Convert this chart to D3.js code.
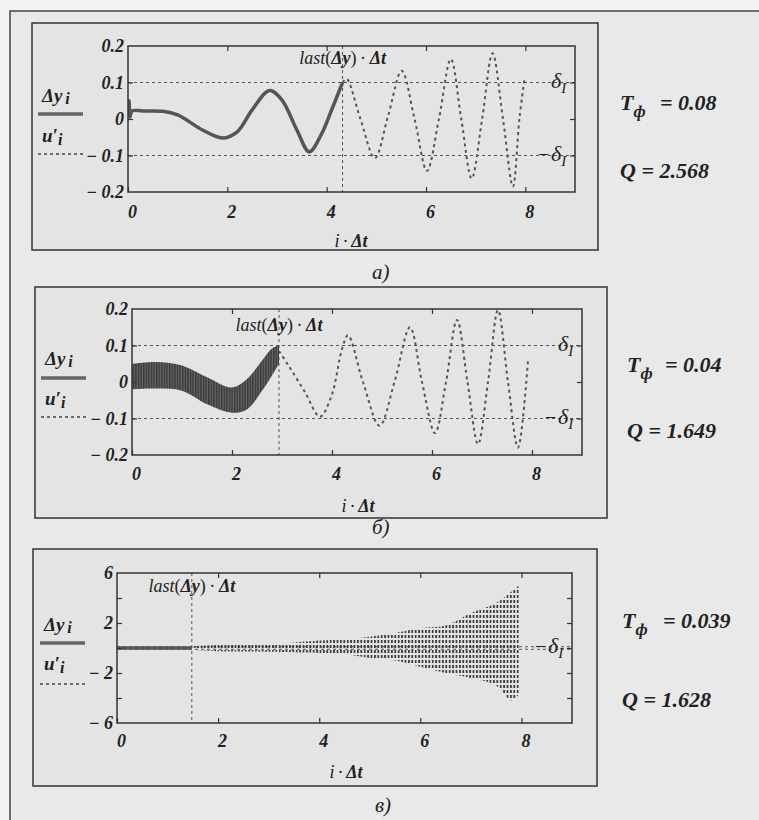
<!DOCTYPE html>
<html>
<head>
<meta charset="utf-8">
<script src="https://cdn.jsdelivr.net/npm/d3@7"></script>
<style>
  body { margin: 0; background: #f3f3f3; }
  svg { display: block; }
</style>
</head>
<body>
<svg id="chart" width="759" height="820"></svg>
<script>
// ---- data ----
const xTicks = [0, 2, 4, 6, 8];
const xInnerTicks = [2, 4, 6, 8];
const yLabelsSmall = [-0.2, -0.1, 0, 0.1, 0.2];
const yMarksSmall = [-0.1, 0, 0.1];
const yLabelsLarge = [-6, -2, 2, 6];
const yMarksLarge = [-4, -2, 0, 2, 4];
const deltaI = 0.1;
const captions = ['а)', 'б)', 'в)'];
const filterT = ['0.08', '0.04', '0.039'];
const qValues = ['2.568', '1.649', '1.628'];
const lastT = [4.32, 2.94, 1.48];

// panel а: [t, value]
const dyA = [[0, 0.03], [0.02, 0.05], [0.04, 0.005], [0.08, 0.022], [0.3, 0.022], [0.7, 0.021],
  [1.0, 0.011], [1.5, -0.03], [1.9, -0.052], [2.2, -0.035], [2.5, 0.025], [2.85, 0.078],
  [3.1, 0.052], [3.4, -0.03], [3.65, -0.09], [3.9, -0.04], [4.1, 0.025], [4.32, 0.1]];
const uA = [[4.32, 0.1], [4.4, 0.11], [4.68, 0.0], [4.97, -0.107], [5.24, 0.01], [5.51, 0.132],
  [5.77, 0.0], [6.02, -0.142], [6.26, 0.0], [6.5, 0.164], [6.71, 0.0], [6.92, -0.163],
  [7.13, 0.0], [7.34, 0.18], [7.55, 0.0], [7.75, -0.185], [7.88, 0.0], [7.98, 0.107]];

// panel б: solid part is a dense oscillation, kept as [t, top, bottom]
const dyBandB = [[0, 0.05, -0.02], [0.5, 0.055, -0.018], [1.0, 0.045, -0.024], [1.5, 0.013, -0.061],
  [2.0, -0.015, -0.084], [2.3, 0.008, -0.075], [2.6, 0.059, -0.024], [2.8, 0.092, 0.018],
  [2.94, 0.1, 0.05]];
const uB = [[2.94, 0.085], [3.13, 0.045], [3.46, -0.028], [3.76, -0.095], [3.99, -0.038],
  [4.2, 0.09], [4.32, 0.128], [4.62, 0.0], [4.95, -0.12], [5.25, 0.0], [5.56, 0.15],
  [5.8, 0.0], [6.06, -0.14], [6.28, 0.0], [6.5, 0.17], [6.71, 0.0], [6.92, -0.17],
  [7.12, 0.0], [7.32, 0.197], [7.52, 0.0], [7.72, -0.18], [7.92, 0.06]];

// panel в: growing dense oscillation, envelope [t, top, bottom]
const dyV = [[0, 0], [1.48, 0]];
const uBandV = [[1.48, 0.15, -0.15], [2, 0.25, -0.25], [3, 0.3, -0.3], [4, 0.6, -0.4],
  [4.5, 0.7, -0.5], [5, 0.9, -0.8], [5.5, 1.2, -1.0], [6, 1.6, -1.5], [6.5, 1.8, -2.0],
  [7, 2.8, -2.4], [7.5, 3.6, -3.0], [7.8, 4.5, -4.2], [7.95, 5.0, -3.7]];

// ---- layout ----
const panels = [
  { box: [32, 23, 598, 250], plot: [128, 46, 575, 192], yDomain: [-0.2, 0.2],
    yLabels: yLabelsSmall, yMarks: yMarksSmall, xPad: 14, lastDy: 18, deltaPair: true,
    legend: { x: 38, t1: 102, l1: 114, t2: 142, l2: 154 },
    right: { x: 620, eqX: 660, t: 110, q: 178 }, title: [351, 247], caption: [372, 279],
    solid: dyA, dashed: uA },
  { box: [35, 287, 607, 518], plot: [132, 309, 582, 455], yDomain: [-0.2, 0.2],
    yLabels: yLabelsSmall, yMarks: yMarksSmall, xPad: 13, lastDy: 22, deltaPair: true,
    legend: { x: 41, t1: 365, l1: 378, t2: 405, l2: 417 },
    right: { x: 627, eqX: 665, t: 372, q: 438 }, title: [358, 512], caption: [372, 534],
    band: dyBandB, dashed: uB },
  { box: [33, 549, 597, 786], plot: [117, 573, 572, 723], yDomain: [-6, 6],
    yLabels: yLabelsLarge, yMarks: yMarksLarge, xPad: 12, lastDy: 19, deltaPair: false,
    legend: { x: 40, t1: 631, l1: 643, t2: 670, l2: 684 },
    right: { x: 622, eqX: 663, t: 628, q: 707 }, title: [346, 778], caption: [375, 812],
    solid: dyV, dashedBand: uBandV }
];

const serif = "'Liberation Serif', 'Times New Roman', serif";
const ink = '#333';
const curveInk = '#555';

const svg = d3.select('#chart');

svg.append('rect')
  .attr('width', 759).attr('height', 820).attr('fill', '#f3f3f3');
// page frame: only the left and top edges fall inside the picture
svg.append('rect')
  .attr('x', 10).attr('y', 11).attr('width', 749).attr('height', 809).attr('fill', '#e9e9e9');
svg.append('path')
  .attr('d', 'M10,820 V11 H759')
  .attr('fill', 'none').attr('stroke', '#444').attr('stroke-width', 1.5);

const defs = svg.append('defs');

const stripes = defs.append('pattern')
  .attr('id', 'stripes').attr('width', 2.6).attr('height', 6)
  .attr('patternUnits', 'userSpaceOnUse');
stripes.append('rect').attr('width', 2.6).attr('height', 6).attr('fill', '#666');
stripes.append('rect').attr('width', 1.4).attr('height', 6).attr('fill', '#3a3a3a');

const dots = defs.append('pattern')
  .attr('id', 'dots').attr('width', 3.4).attr('height', 5)
  .attr('patternUnits', 'userSpaceOnUse');
dots.append('rect').attr('width', 1.8).attr('height', 3).attr('fill', '#3c3c3c');

const fmt = d => (d < 0 ? '\u2212 ' + String(-d) : String(d));

panels.forEach((p, i) => {
  const [pl, pt, pr, pb] = p.plot;
  const x = d3.scaleLinear().domain([0, 9]).range([pl, pr]);
  const y = d3.scaleLinear().domain(p.yDomain).range([pb, pt]);
  const g = svg.append('g');

  g.append('rect')
    .attr('x', p.box[0]).attr('y', p.box[1])
    .attr('width', p.box[2] - p.box[0]).attr('height', p.box[3] - p.box[1])
    .attr('fill', '#e4e4e4').attr('stroke', ink).attr('stroke-width', 1.5);

  defs.append('clipPath').attr('id', `clip${i}`)
    .append('rect').attr('x', pl).attr('y', pt).attr('width', pr - pl).attr('height', pb - pt);

  // markers
  const marks = g.append('g').attr('stroke', curveInk).attr('stroke-width', 1)
    .attr('stroke-dasharray', '3,3');
  [deltaI, -deltaI].forEach(v => {
    marks.append('line').attr('x1', pl).attr('x2', pr).attr('y1', y(v)).attr('y2', y(v));
  });
  marks.append('line').attr('x1', x(lastT[i])).attr('x2', x(lastT[i]))
    .attr('y1', pt).attr('y2', pb);

  const plotG = g.append('g').attr('clip-path', `url(#clip${i})`);

  const line = d3.line().x(d => x(d[0])).y(d => y(d[1])).curve(d3.curveCatmullRom.alpha(0.5));
  const area = d3.area().x(d => x(d[0])).y0(d => y(d[2])).y1(d => y(d[1]))
    .curve(d3.curveCatmullRom.alpha(0.5));

  if (p.solid) {
    plotG.append('path').datum(p.solid).attr('d', line)
      .attr('fill', 'none').attr('stroke', curveInk).attr('stroke-width', 3.5);
  }
  if (p.band) {
    plotG.append('path').datum(p.band).attr('d', area).attr('fill', 'url(#stripes)');
  }
  if (p.dashed) {
    plotG.append('path').datum(p.dashed).attr('d', line)
      .attr('fill', 'none').attr('stroke', curveInk).attr('stroke-width', 2)
      .attr('stroke-dasharray', '3,3.5');
  }
  if (p.dashedBand) {
    plotG.append('path').datum(p.dashedBand).attr('d', area).attr('fill', 'url(#dots)');
  }

  // axes (Mathcad style: inside ticks on all sides)
  const styleAxis = sel => {
    sel.attr('font-family', null);
    sel.select('.domain').remove();
    sel.selectAll('.tick line').attr('stroke', ink).attr('stroke-width', 1.2);
    sel.selectAll('.tick text')
      .attr('fill', '#222').style('font-family', serif).style('font-size', '18px')
      .style('font-weight', 'bold').style('font-style', 'italic');
  };

  g.append('g').attr('transform', `translate(0,${pb})`)
    .call(d3.axisBottom(x).tickValues(xTicks).tickSizeInner(-5).tickSizeOuter(0).tickPadding(p.xPad - 1))
    .call(styleAxis)
    .call(s => s.selectAll('.tick text').attr('dx', 4));
  g.append('g').attr('transform', `translate(0,${pt})`)
    .call(d3.axisTop(x).tickValues(xInnerTicks).tickSizeInner(-5).tickSizeOuter(0).tickFormat(''))
    .call(styleAxis);

  const yAll = Array.from(new Set(p.yLabels.concat(p.yMarks))).sort((a, b) => a - b);
  g.append('g').attr('transform', `translate(${pl},0)`)
    .call(d3.axisLeft(y).tickValues(yAll).tickSizeInner(-5).tickSizeOuter(0).tickPadding(4)
      .tickFormat(d => (p.yLabels.includes(d) ? fmt(d) : '')))
    .call(styleAxis)
    .call(s => s.selectAll('.tick line').filter(d => !p.yMarks.includes(d)).remove());
  g.append('g').attr('transform', `translate(${pr},0)`)
    .call(d3.axisRight(y).tickValues(p.yMarks).tickSizeInner(-5).tickSizeOuter(0).tickFormat(''))
    .call(styleAxis);

  g.append('rect')
    .attr('x', pl).attr('y', pt).attr('width', pr - pl).attr('height', pb - pt)
    .attr('fill', 'none').attr('stroke', ink).attr('stroke-width', 1.5);

  // marker labels
  const lastLbl = g.append('text')
    .attr('x', x(lastT[i])).attr('y', pt + p.lastDy)
    .attr('text-anchor', 'middle').attr('fill', '#222')
    .style('font-family', serif).style('font-size', '18px').style('font-style', 'italic');
  lastLbl.append('tspan').text('last');
  lastLbl.append('tspan').style('font-style', 'normal').text('(');
  lastLbl.append('tspan').style('font-weight', 'bold').text('\u0394y');
  lastLbl.append('tspan').style('font-style', 'normal').text(')\u2009\u00b7\u2009');
  lastLbl.append('tspan').style('font-weight', 'bold').text('\u0394t');

  const deltaLabel = (v, minus) => {
    const t = g.append('text')
      .attr('x', pr - (minus ? 37 : 24)).attr('y', y(v) + 5).attr('fill', '#222')
      .style('font-family', serif).style('font-size', '22px').style('font-style', 'italic');
    if (minus) t.append('tspan').style('font-style', 'normal').style('font-size', '20px').text('\u2212');
    t.append('tspan').attr('x', pr - 24).text('\u03b4');
    t.append('tspan').attr('dy', 5).style('font-size', '15px').text('I');
  };
  if (p.deltaPair) {
    deltaLabel(deltaI, false);
    deltaLabel(-deltaI, true);
  } else {
    // on the ±6 scale both marker labels fall on one spot, drawn once as in the source
    deltaLabel(0, true);
  }

  // legend
  const lg = p.legend;
  const leg1 = g.append('text').attr('x', lg.x + 4).attr('y', lg.t1).attr('fill', '#222')
    .style('font-family', serif).style('font-size', '19px')
    .style('font-weight', 'bold').style('font-style', 'italic');
  leg1.append('tspan').text('\u0394y');
  leg1.append('tspan').attr('dx', 3).attr('dy', 2).style('font-size', '16px').text('i');
  g.append('line').attr('x1', lg.x).attr('x2', lg.x + 45).attr('y1', lg.l1).attr('y2', lg.l1)
    .attr('stroke', '#666').attr('stroke-width', 3.5);
  const leg2 = g.append('text').attr('x', lg.x + 4).attr('y', lg.t2).attr('fill', '#222')
    .style('font-family', serif).style('font-size', '19px')
    .style('font-weight', 'bold').style('font-style', 'italic');
  leg2.append('tspan').text('u\u2032');
  leg2.append('tspan').attr('dy', 3).style('font-size', '16px').text('i');
  g.append('line').attr('x1', lg.x).attr('x2', lg.x + 45).attr('y1', lg.l2).attr('y2', lg.l2)
    .attr('stroke', '#444').attr('stroke-width', 1.5).attr('stroke-dasharray', '3,3');

  // x title
  const xt = g.append('text').attr('x', p.title[0]).attr('y', p.title[1])
    .attr('text-anchor', 'middle').attr('fill', '#222')
    .style('font-family', serif).style('font-size', '18px').style('font-style', 'italic');
  xt.append('tspan').text('i\u2009\u00b7\u2009');
  xt.append('tspan').style('font-weight', 'bold').text('\u0394t');

  // caption
  g.append('text').attr('x', p.caption[0]).attr('y', p.caption[1]).attr('fill', '#222')
    .style('font-family', serif).style('font-size', '21px').style('font-style', 'italic')
    .text(captions[i]);

  // parameters
  const rt = p.right;
  const tf = g.append('text').attr('x', rt.x).attr('y', rt.t).attr('fill', '#222')
    .style('font-family', serif).style('font-size', '22px')
    .style('font-weight', 'bold').style('font-style', 'italic');
  tf.append('tspan').text('T');
  tf.append('tspan').attr('dy', 7).style('font-size', '17px').text('\u0444');
  tf.append('tspan').attr('x', rt.eqX).attr('dy', -7).text(`= ${filterT[i]}`);

  g.append('text').attr('x', rt.x).attr('y', rt.q).attr('fill', '#222')
    .style('font-family', serif).style('font-size', '22px')
    .style('font-weight', 'bold').style('font-style', 'italic')
    .text(`Q = ${qValues[i]}`);
});
</script>
</body>
</html>
